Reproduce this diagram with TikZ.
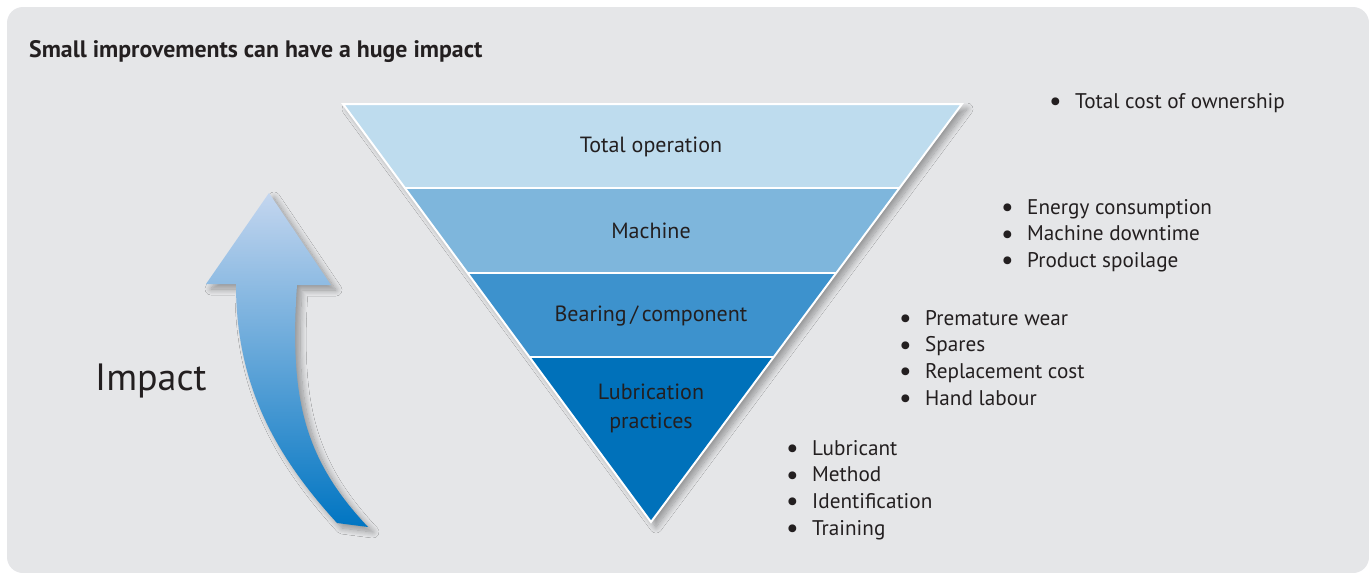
\documentclass[tikz,border=0pt]{standalone}
\usepackage{fontspec}
\setmainfont{PT Sans}
\usetikzlibrary{shadows.blur}
\definecolor{bg}{HTML}{E5E6E8}
\definecolor{txt}{HTML}{231F20}
\definecolor{bandA}{HTML}{BEDCEE}
\definecolor{bandB}{HTML}{7EB6DC}
\definecolor{bandC}{HTML}{3D92CD}
\definecolor{bandD}{HTML}{0071BA}
\definecolor{arrTop}{HTML}{C4D6EF}
\definecolor{arrBot}{HTML}{0075C2}
\tikzset{
  band/.style={draw=white, line width=2pt, line join=miter},
  bandlabel/.style={text=txt, font=\fontsize{22}{29}\selectfont, align=center, inner sep=0pt},
  bullets/.style={text=txt, font=\fontsize{21.2}{26.7}\selectfont, align=left, anchor=west, inner sep=0pt},
  softshadow/.style={blur shadow={shadow xshift=5pt, shadow yshift=-5pt, shadow blur steps=12, shadow blur radius=6pt, shadow opacity=35}}
}
\newcommand{\bl}[1]{\makebox[26pt][l]{\raisebox{-2.2pt}{\fontsize{28}{28}\selectfont\textbullet}}#1}
\begin{document}
\begin{tikzpicture}[x=1pt,y=-1pt]
\useasboundingbox (0,0) rectangle (1369,573);
\fill[white] (0,0) rectangle (1369,573);
\fill[bg, rounded corners=16pt] (7,7) rectangle (1369,573);

% title
\node[anchor=west, text=txt, inner sep=0pt, font=\bfseries\fontsize{23.8}{28}\selectfont] (title) at (29,52) {Small improvements can have a huge impact};

% funnel triangle shadow
\fill[bg, softshadow] (343,104) -- (962,104) -- (651,522) -- cycle;
% bands
\fill[bandA] (343,104) -- (962,104) -- (899.5,188) -- (404.9,188) -- cycle;
\fill[bandB] (404.9,188) -- (899.5,188) -- (836.3,273) -- (467.5,273) -- cycle;
\fill[bandC] (467.5,273) -- (836.3,273) -- (773.8,357) -- (529.4,357) -- cycle;
\fill[bandD] (529.4,357) -- (773.8,357) -- (651,522) -- cycle;
\draw[band] (343,104) -- (962,104) -- (651,522) -- cycle;
\draw[band] (404.9,188) -- (899.5,188);
\draw[band] (467.5,273) -- (836.3,273);
\draw[band] (529.4,357) -- (773.8,357);

\node[bandlabel] (l1) at (651,147) {Total operation};
\node[bandlabel] (l2) at (651,231) {Machine};
\node[bandlabel] (l3) at (651,316) {Bearing\,/\,component};
\node[bandlabel] (l4) at (651,408) {Lubrication\\practices};

% bullet lists
\node[bullets] (b1) at (1049,103) {\bl{Total cost of ownership}};
\node[bullets, anchor=north west] (b2) at (1001,199) {\bl{Energy consumption}\\\bl{Machine downtime}\\\bl{Product spoilage}};
\node[bullets, anchor=north west] (b3) at (899,310) {\bl{Premature wear}\\\bl{Spares}\\\bl{Replacement cost}\\\bl{Hand labour}};
\node[bullets, anchor=north west] (b4) at (786,440) {\bl{Lubricant}\\\bl{Method}\\\bl{Identification}\\\bl{Training}};

% impact arrow
\shade[top color=arrTop, bottom color=arrBot, softshadow]
  (206,284) -- (269,193) -- (331,285) -- (297,285)
  .. controls (289,400) and (305,460) .. (368,527)
  -- (337,523)
  .. controls (275,455) and (236,385) .. (236,284) -- cycle;

\node[anchor=west, text=txt, inner sep=0pt, font=\fontsize{38}{44}\selectfont] (impact) at (95,381) {Impact};
\end{tikzpicture}
\end{document}
